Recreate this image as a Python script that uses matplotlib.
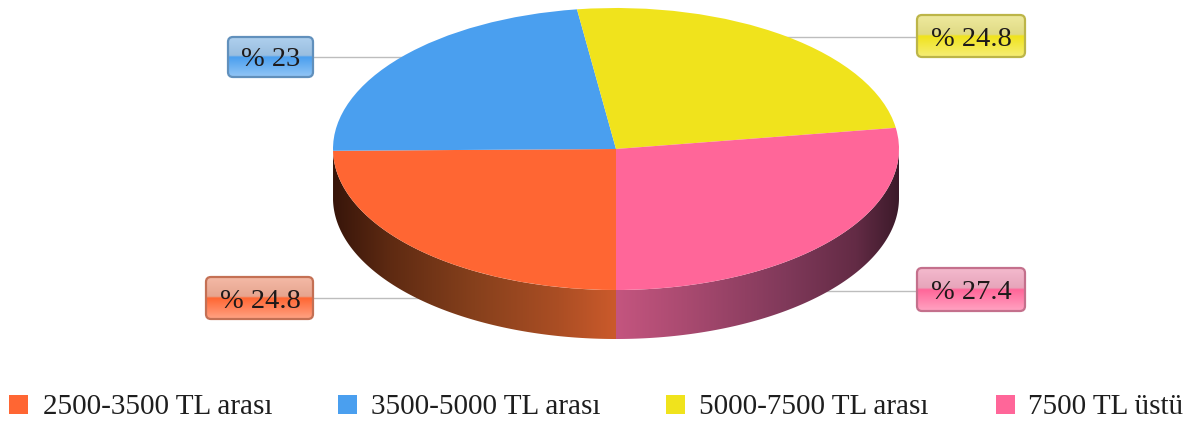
import numpy as np
import matplotlib
matplotlib.use('Agg')
import matplotlib.pyplot as plt
from matplotlib.colors import to_rgb
from matplotlib.patches import FancyBboxPatch, PathPatch, Rectangle
from matplotlib.path import Path

categories = ['2500-3500 TL arası', '3500-5000 TL arası', '5000-7500 TL arası', '7500 TL üstü']
values = [24.8, 23, 24.8, 27.4]
value_labels = ['% 24.8', '% 23', '% 24.8', '% 27.4']
colors = ['#FF6633', '#4A9FEF', '#F0E31C', '#FF6699']

W, H = 1198, 421
# pie placement in pixels
left, right, top, bottom = 333, 899, 8, 290
depth = 49
start_angle = 270

fig = plt.figure(figsize=(W / 100, H / 100), dpi=100)
plt.rcParams['font.family'] = ['Liberation Serif', 'DejaVu Serif']

# pixel axes for the labels, leader lines and legend
ax = fig.add_axes([0, 0, 1, 1], zorder=1)
ax.set_xlim(0, W)
ax.set_ylim(H, 0)
ax.axis('off')

# pie axes: unit radius, squashed to an ellipse, extended below for the wall
ry = (bottom - top) / 2
pie_ax = fig.add_axes([left / W, 1 - (bottom + depth) / H, (right - left) / W, (bottom + depth - top) / H], zorder=2)
pie_ax.patch.set_alpha(0)
pie_ax.pie(values, colors=colors, startangle=start_angle, counterclock=False, radius=1)
pie_ax.set_aspect('auto')
pie_ax.axis('off')

# wall gradients, sampled along x in unit radius
wall_stops = {
    0: ([-1, -0.8, -0.5, -0.2, 0], ['#37150A', '#5E2A12', '#86401C', '#AB4E24', '#CB5A2B']),
    3: ([0, 0.25, 0.6, 0.85, 1], ['#C4557F', '#A94A70', '#80395A', '#632B45', '#3C1A2A']),
}

def wall_path(a0, a1):
    # band below the rim between two angles
    t = np.radians(np.linspace(a0, a1, 200))
    x, y = np.cos(t), np.sin(t)
    d = depth / ry
    verts = np.concatenate([np.c_[x, y], np.c_[x, y - d][::-1], [[x[0], y[0]]]])
    return Path(verts, closed=True)

angles = start_angle - np.cumsum([0] + values) * 3.6
for i, (xs, cs) in wall_stops.items():
    # only the front half of the rim is visible
    seg = (270, 360) if i == 3 else (max(angles[i + 1], 180), angles[i])
    grid = np.linspace(xs[0], xs[-1], 300)
    rgb = np.array([to_rgb(c) for c in cs])
    img = np.stack([np.interp(grid, xs, rgb[:, k]) for k in range(3)], axis=-1)[None, :, :]
    im = pie_ax.imshow(img, extent=(xs[0], xs[-1], -1 - depth / ry, 0), aspect='auto', zorder=0, interpolation='bilinear')
    patch = PathPatch(wall_path(*seg), transform=pie_ax.transData, fc='none', ec='none')
    pie_ax.add_patch(patch)
    im.set_clip_path(patch)
pie_ax.set_xlim(-1, 1)
pie_ax.set_ylim(-1 - depth / ry, 1)

# label boxes: x0, y0, x1, y1 and the leader lines running in under the pie
boxes = [(206, 277, 313, 319), (228, 37, 313, 77), (917, 15, 1025, 57), (917, 268, 1025, 311)]
leader_y = [298, 57, 37, 291]
leader_x = [(313, 440), (313, 420), (770, 917), (800, 917)]

def gloss(color):
    base = np.array(to_rgb(color))
    pale = base * 0.45 + 0.5
    stops = [0, 0.46, 0.5, 1]
    cols = np.array([pale * 0.85 + 0.15, pale * 0.95, base, base * 0.6 + 0.4])
    g = np.linspace(0, 1, 100)
    return np.stack([np.interp(g, stops, cols[:, k]) for k in range(3)], axis=-1)[:, None, :]

for i, (x0, y0, x1, y1) in enumerate(boxes):
    ax.plot(leader_x[i], [leader_y[i]] * 2, color='#BDBDBD', lw=1, zorder=1)
    base = np.array(to_rgb(colors[i]))
    patch = FancyBboxPatch((x0 + 4, y0 + 4), x1 - x0 - 8, y1 - y0 - 8, boxstyle='round,pad=4,rounding_size=5',
                           fc='none', ec=base * 0.55 + 0.22, lw=1.6, zorder=4)
    ax.add_patch(patch)
    im = ax.imshow(gloss(colors[i]), extent=(x0, x1, y1, y0), aspect='auto', zorder=3)
    im.set_clip_path(patch)
    ax.text((x0 + x1) / 2 + 0.5, (y0 + y1) / 2 + 3, value_labels[i], ha='center', va='center',
            fontsize=20.5, color='#1E1A1A', zorder=5)
ax.set_xlim(0, W)
ax.set_ylim(H, 0)

# legend row
legend_sq = [9, 338, 666, 996]
legend_txt = [43, 371, 699, 1028]
for i, name in enumerate(categories):
    ax.add_patch(Rectangle((legend_sq[i], 395), 19, 19, fc=colors[i], ec='none'))
    ax.text(legend_txt[i], 407.5, name, ha='left', va='center', fontsize=21, color='#1E1E1E')

fig.savefig('out.png', dpi=100)
